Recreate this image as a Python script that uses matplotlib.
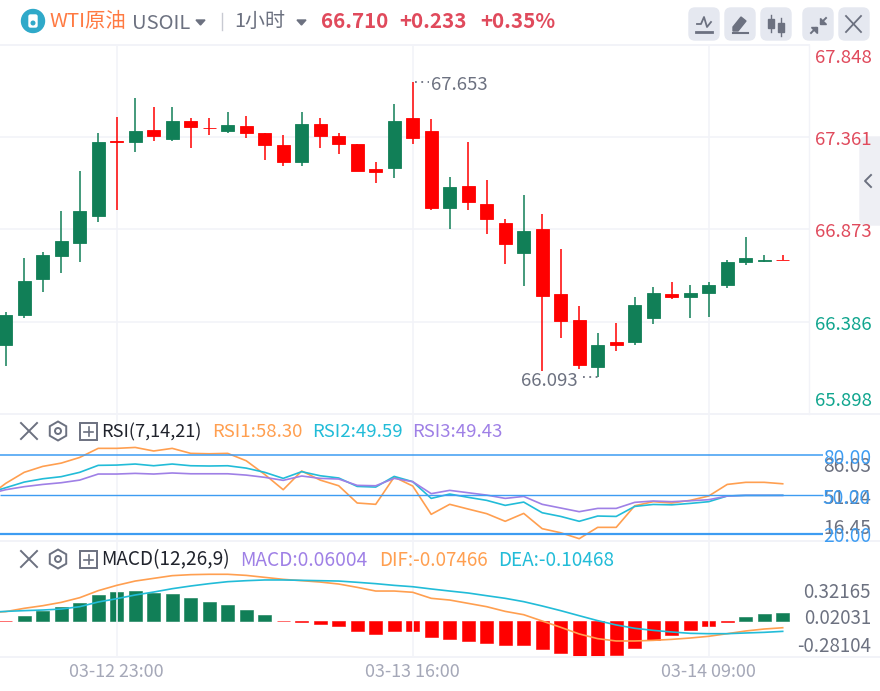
import numpy as np
import matplotlib
matplotlib.use('Agg')
import matplotlib.pyplot as plt
from matplotlib.patches import Circle, FancyBboxPatch, RegularPolygon, Rectangle, Polygon

plt.rcParams['font.family'] = ['Noto Sans CJK SC', 'DejaVu Sans']

# velas de 1 hora, se leen de la imagen
opens = [66.263, 66.422, 66.612, 66.732, 66.803, 66.946, 67.342, 67.335, 67.398, 67.350, 67.446,
         67.412, 67.391, 67.421, 67.382, 67.319, 67.232, 67.430, 67.366, 67.327, 67.191, 67.200,
         67.462, 67.391, 66.985, 67.105, 67.010, 66.905, 66.748, 66.874, 66.531, 66.397, 66.144,
         66.278, 66.278, 66.405, 66.531, 66.517, 66.540, 66.578, 66.699, 66.707, 66.714]
highs = [66.436, 66.722, 66.754, 66.969, 67.184, 67.382, 67.469, 67.566, 67.518, 67.518, 67.462,
         67.462, 67.493, 67.471, 67.382, 67.375, 67.493, 67.462, 67.382, 67.327, 67.232, 67.534,
         67.653, 67.455, 67.153, 67.335, 67.137, 66.930, 67.057, 66.953, 66.771, 66.469, 66.326,
         66.381, 66.515, 66.570, 66.596, 66.578, 66.596, 66.713, 66.833, 66.737, 66.737]
lows = [66.151, 66.406, 66.542, 66.644, 66.701, 66.914, 66.978, 67.280, 67.343, 67.343, 67.303,
        67.375, 67.382, 67.359, 67.239, 67.207, 67.207, 67.303, 67.271, 67.184, 67.119, 67.144,
        67.327, 66.976, 66.874, 66.978, 66.851, 66.692, 66.572, 66.127, 66.301, 66.135, 66.093,
        66.231, 66.262, 66.374, 66.508, 66.405, 66.412, 66.564, 66.683, 66.699, 66.710]
closes = [66.422, 66.603, 66.739, 66.810, 66.969, 67.335, 67.336, 67.391, 67.366, 67.446, 67.416,
          67.407, 67.423, 67.382, 67.320, 67.232, 67.430, 67.366, 67.327, 67.184, 67.177, 67.446,
          67.359, 66.985, 67.096, 67.017, 66.930, 66.796, 66.867, 66.524, 66.390, 66.158, 66.262,
          66.262, 66.476, 66.540, 66.517, 66.540, 66.578, 66.699, 66.723, 66.714, 66.710]

# RSI y lineas MACD llevan un punto extra a la izquierda (fuera de la vista)
rsi1 = [48.0, 58.6, 67.0, 71.5, 74.0, 78.3, 85.2, 85.2, 85.9, 83.2, 85.2, 81.4, 81.1, 81.4, 75.8,
        65.4, 53.8, 68.0, 61.1, 56.8, 43.7, 42.7, 63.4, 56.6, 35.1, 42.7, 39.1, 35.6, 29.8, 35.8,
        24.2, 21.1, 16.6, 25.2, 25.2, 41.6, 44.7, 43.7, 45.7, 49.0, 57.8, 59.4, 59.4, 58.3]
rsi2 = [51.0, 55.3, 59.6, 62.1, 63.7, 67.0, 72.3, 72.5, 73.3, 72.0, 73.3, 72.0, 71.8, 72.0, 70.2,
        67.0, 62.4, 67.5, 64.4, 62.7, 56.3, 55.8, 63.9, 59.9, 47.2, 50.5, 48.0, 45.7, 41.9, 44.4,
        36.3, 33.5, 29.8, 33.8, 33.5, 41.1, 42.6, 42.3, 43.4, 44.7, 49.0, 49.5, 49.5, 49.59]
rsi3 = [50.3, 53.8, 56.1, 57.8, 59.1, 61.1, 65.7, 65.7, 66.2, 65.7, 66.5, 65.9, 65.9, 65.9, 64.9,
        63.2, 60.9, 64.2, 62.4, 61.9, 57.1, 56.8, 62.4, 59.9, 50.8, 53.3, 51.5, 49.7, 47.2, 48.7,
        42.7, 39.9, 37.1, 39.6, 39.6, 44.2, 45.2, 44.7, 45.4, 46.2, 49.0, 49.5, 49.5, 49.43]
rsi_levels = [80, 50, 20]
rsi_level_widths = [1.1, 1.0, 1.6]

dif = [0.093, 0.104, 0.141, 0.170, 0.207, 0.259, 0.337, 0.396, 0.444, 0.474, 0.504, 0.515, 0.519,
       0.519, 0.507, 0.485, 0.463, 0.448, 0.433, 0.411, 0.374, 0.333, 0.333, 0.319, 0.252, 0.233,
       0.196, 0.159, 0.107, 0.070, 0.0, -0.070, -0.144, -0.196, -0.222, -0.222, -0.215, -0.204,
       -0.189, -0.170, -0.141, -0.111, -0.089, -0.075]
dea = [0.096, 0.107, 0.115, 0.122, 0.133, 0.159, 0.211, 0.248, 0.289, 0.322, 0.359, 0.389, 0.415,
       0.437, 0.448, 0.456, 0.456, 0.452, 0.448, 0.444, 0.430, 0.415, 0.396, 0.381, 0.356, 0.333,
       0.311, 0.281, 0.252, 0.215, 0.167, 0.115, 0.059, 0.004, -0.044, -0.081, -0.104, -0.122,
       -0.137, -0.141, -0.141, -0.133, -0.126, -0.115]
macd = [-0.003, 0.038, 0.078, 0.105, 0.135, 0.195, 0.218, 0.226, 0.213, 0.203, 0.173, 0.143, 0.120,
        0.083, 0.045, -0.003, -0.004, -0.020, -0.038, -0.075, -0.098, -0.075, -0.075, -0.120,
        -0.135, -0.150, -0.165, -0.180, -0.180, -0.211, -0.241, -0.278, -0.271, -0.256, -0.203,
        -0.143, -0.105, -0.068, -0.038, -0.008, 0.030, 0.053, 0.060]

price_ticks = ['67.848', '67.361', '66.873', '66.386', '65.898']
grid_prices = [67.361, 66.873, 66.386]
time_labels = ['03-12 23:00', '03-13 16:00', '03-14 09:00']
time_index = [6, 22, 38]

GREEN = '#117f57'
RED = '#ff0000'
GRID = '#f2f3f8'
GRAY = '#6c7180'
ORANGE = '#ff9f50'
CYAN = '#22bcd8'
PURPLE = '#9f80e6'
BLUE = '#3d9cf2'
UP_TXT = '#e04a5c'
DOWN_TXT = '#10a58e'

W, H = 880, 691
STEP = 18.5
X0 = 5.7
XMIN = -X0 / STEP
XMAX = (W - X0) / STEP
XGRID = (809 - X0) / STEP
XLEVEL = (823 - X0) / STEP

fig = plt.figure(figsize=(W / 100, H / 100), dpi=100, facecolor='white')


def panel(top, bottom, ymin, ymax):
    ax = fig.add_axes([0, 1 - bottom / H, 1, (bottom - top) / H])
    ax.set_xlim(XMIN, XMAX)
    ax.set_ylim(ymin, ymax)
    ax.axis('off')
    for i in time_index:
        ax.axvline(i, color=GRID, lw=1.2, zorder=0)
    return ax


idx = np.arange(len(opens))
idx2 = np.arange(-1, len(opens))
up = np.array(closes) >= np.array(opens)
colors = [GREEN if u else RED for u in up]

# --- velas
ax1 = panel(45, 414, 65.898, 67.848)
ax1.hlines(grid_prices, XMIN, XGRID, color=GRID, lw=1.2, zorder=0)
ax1.vlines(idx, lows, highs, color=colors, lw=1.1, zorder=2)
bottoms = np.minimum(opens, closes)
heights = np.abs(np.array(closes) - np.array(opens))
ax1.bar(idx, heights, 0.72, bottom=bottoms, color=colors, edgecolor=colors, lw=0.6, zorder=3)
ax1.plot([22.1, 22.9], [67.653, 67.653], color=GRAY, lw=1.3, ls=(0, (1, 2.5)))
ax1.plot([31.2, 32.0], [66.093, 66.093], color=GRAY, lw=1.3, ls=(0, (1, 2.5)))

# --- RSI
ax2 = panel(414, 541, 14.84, 111.3)
ax2.plot(idx2, rsi1, color=ORANGE, lw=1.2, zorder=2)
ax2.plot(idx2, rsi2, color=CYAN, lw=1.2, zorder=2)
ax2.plot(idx2, rsi3, color=PURPLE, lw=1.2, zorder=2)
ax2.hlines(rsi_levels, XMIN, XLEVEL, color=BLUE, lw=rsi_level_widths, zorder=3)

# --- MACD
ax3 = panel(541, 657, -0.4, 0.889)
ax4 = ax3.twinx()
ax4.set_ylim(-0.2707, 0.6015)
ax4.axis('off')
macd_colors = [GREEN if m > 0 else RED for m in macd]
ax4.bar(idx, macd, 0.7, color=macd_colors, edgecolor=macd_colors, lw=0.4, zorder=1)
ax3.set_zorder(ax4.get_zorder() + 1)
ax3.plot(idx2, dif, color=ORANGE, lw=1.2)
ax3.plot(idx2, dea, color=CYAN, lw=1.2)

# --- capa de textos e iconos en pixeles
top = fig.add_axes([0, 0, 1, 1], zorder=20)
top.set_xlim(0, W)
top.set_ylim(H, 0)
top.axis('off')
top.patch.set_alpha(0)


def txt(x, y, s, color=GRAY, size=13, ha='left', **kw):
    top.text(x, y + 1, s, color=color, fontsize=size, ha=ha, va='center', **kw)


for y in [45, 414, 541, 657]:
    top.plot([0, 809 if y == 45 else W], [y, y], color=GRID, lw=1.4)
top.plot([809, 809], [45, 414], color=GRID, lw=1)

# cabecera
top.add_patch(Circle((33, 21), 11.5, color='#2fa9c9'))
top.add_patch(FancyBboxPatch((29, 15), 8, 12, boxstyle='round,pad=0,rounding_size=1.5', color='white'))
top.add_patch(Circle((33, 23), 1.8, color='#2fa9c9'))
txt(49, 20, 'WTI原油', '#ff7a42', 14.7)
txt(132, 22, 'USOIL', GRAY, 14.5)
top.add_patch(Polygon([[196, 20], [205, 20], [200.5, 25]], color=GRAY))
top.plot([222, 222], [13, 30], color='#c8cad2', lw=1)
txt(234, 20, '1小时', GRAY, 14.4)
top.add_patch(Polygon([[297, 20], [306, 20], [301.5, 25]], color=GRAY))
txt(321, 20, '66.710', UP_TXT, 14.8, fontweight='bold')
txt(399, 20, '+0.233', UP_TXT, 14.8, fontweight='bold')
txt(480, 20, '+0.35%', UP_TXT, 14.8, fontweight='bold')

for x in [689, 725, 761, 803, 839]:
    top.add_patch(FancyBboxPatch((x, 8), 30, 32, boxstyle='round,pad=0,rounding_size=6', color='#e5e8f0'))
# iconos de los botones
top.plot([697, 701, 704, 707, 711], [24, 24, 17, 27, 22], color=GRAY, lw=1.3)
top.plot([696, 712], [32, 32], color=GRAY, lw=2)
top.add_patch(Polygon([[733, 31], [733, 27], [741, 17], [746, 21], [738, 31]], color=GRAY))
top.plot([733, 748], [33, 33], color=GRAY, lw=1.5)
for x, y1, y2, b1, b2 in [(771, 15, 32, 19, 28), (781, 18, 36, 23, 32)]:
    top.plot([x, x], [y1, y2], color=GRAY, lw=1)
    top.add_patch(Rectangle((x - 3, b1), 6, b2 - b1, color=GRAY))
top.plot([811, 816], [33, 28], color=GRAY, lw=1.4)
top.plot([821, 826], [23, 18], color=GRAY, lw=1.4)
top.add_patch(Polygon([[811, 27], [817, 27], [817, 33]], color=GRAY))
top.add_patch(Polygon([[820, 18], [820, 24], [826, 24]], color=GRAY))
top.plot([846, 861], [16, 32], color=GRAY, lw=1.3)
top.plot([861, 846], [16, 32], color=GRAY, lw=1.3)

# pestana derecha
top.add_patch(FancyBboxPatch((860, 137), 40, 88, boxstyle='round,pad=0,rounding_size=6', color='#eeeff4'))
top.plot([871, 865, 871], [175, 181, 187], color=GRAY, lw=1.4)

# eje de precios
price_y = [57, 139, 231, 324, 400]
price_colors = [UP_TXT, UP_TXT, UP_TXT, DOWN_TXT, DOWN_TXT]
for s, y, c in zip(price_ticks, price_y, price_colors):
    txt(815, y, s, c, 13.4)
txt(431, 84, '67.653', GRAY, 13.4)
txt(521, 380, '66.093', GRAY, 13.4)


def pane_icons(yc):
    top.plot([21, 37], [yc - 8, yc + 8], color=GRAY, lw=1.4)
    top.plot([37, 21], [yc - 8, yc + 8], color=GRAY, lw=1.4)
    top.add_patch(RegularPolygon((58, yc), 6, radius=9.5, fill=False, ec=GRAY, lw=1.4))
    top.add_patch(Circle((58, yc), 3, fill=False, ec=GRAY, lw=1.4))
    top.add_patch(Rectangle((80, yc - 8), 17, 17, fill=False, ec=GRAY, lw=1.4))
    top.plot([84, 93], [yc + 0.5, yc + 0.5], color=GRAY, lw=1.2)
    top.plot([88.5, 88.5], [yc - 4, yc + 5], color=GRAY, lw=1.2)


# leyenda RSI
pane_icons(431)
txt(101, 431, 'RSI(7,14,21)', '#20232c', 13.1)
txt(212, 431, 'RSI1:58.30', ORANGE, 13.4)
txt(312, 431, 'RSI2:49.59', CYAN, 13.4)
txt(412, 431, 'RSI3:49.43', PURPLE, 13.4)
for y, s in [(465, '86.03'), (497, '51.24'), (528, '16.45')]:
    txt(871, y, s, GRAY, 13.8, ha='right')
for y, s in [(457, '80.00'), (497, '50.00'), (535, '20.00')]:
    txt(871, y, s, BLUE, 13.8, ha='right')

# leyenda MACD
pane_icons(559)
txt(101, 559, 'MACD(12,26,9)', '#20232c', 13.7)
txt(240, 559, 'MACD:0.06004', PURPLE, 13.8)
txt(379, 559, 'DIF:-0.07466', ORANGE, 13.6)
txt(498, 559, 'DEA:-0.10468', CYAN, 13.7)
for y, s in [(592, '0.32165'), (618, '0.02031'), (645, '-0.28104')]:
    txt(871, y, s, GRAY, 13.5, ha='right')

# eje de tiempo
for i, s in zip(time_index, time_labels):
    txt(X0 + i * STEP, 671, s, '#a5a8b8', 12.9, ha='center')

fig.savefig('out.png', dpi=100)
